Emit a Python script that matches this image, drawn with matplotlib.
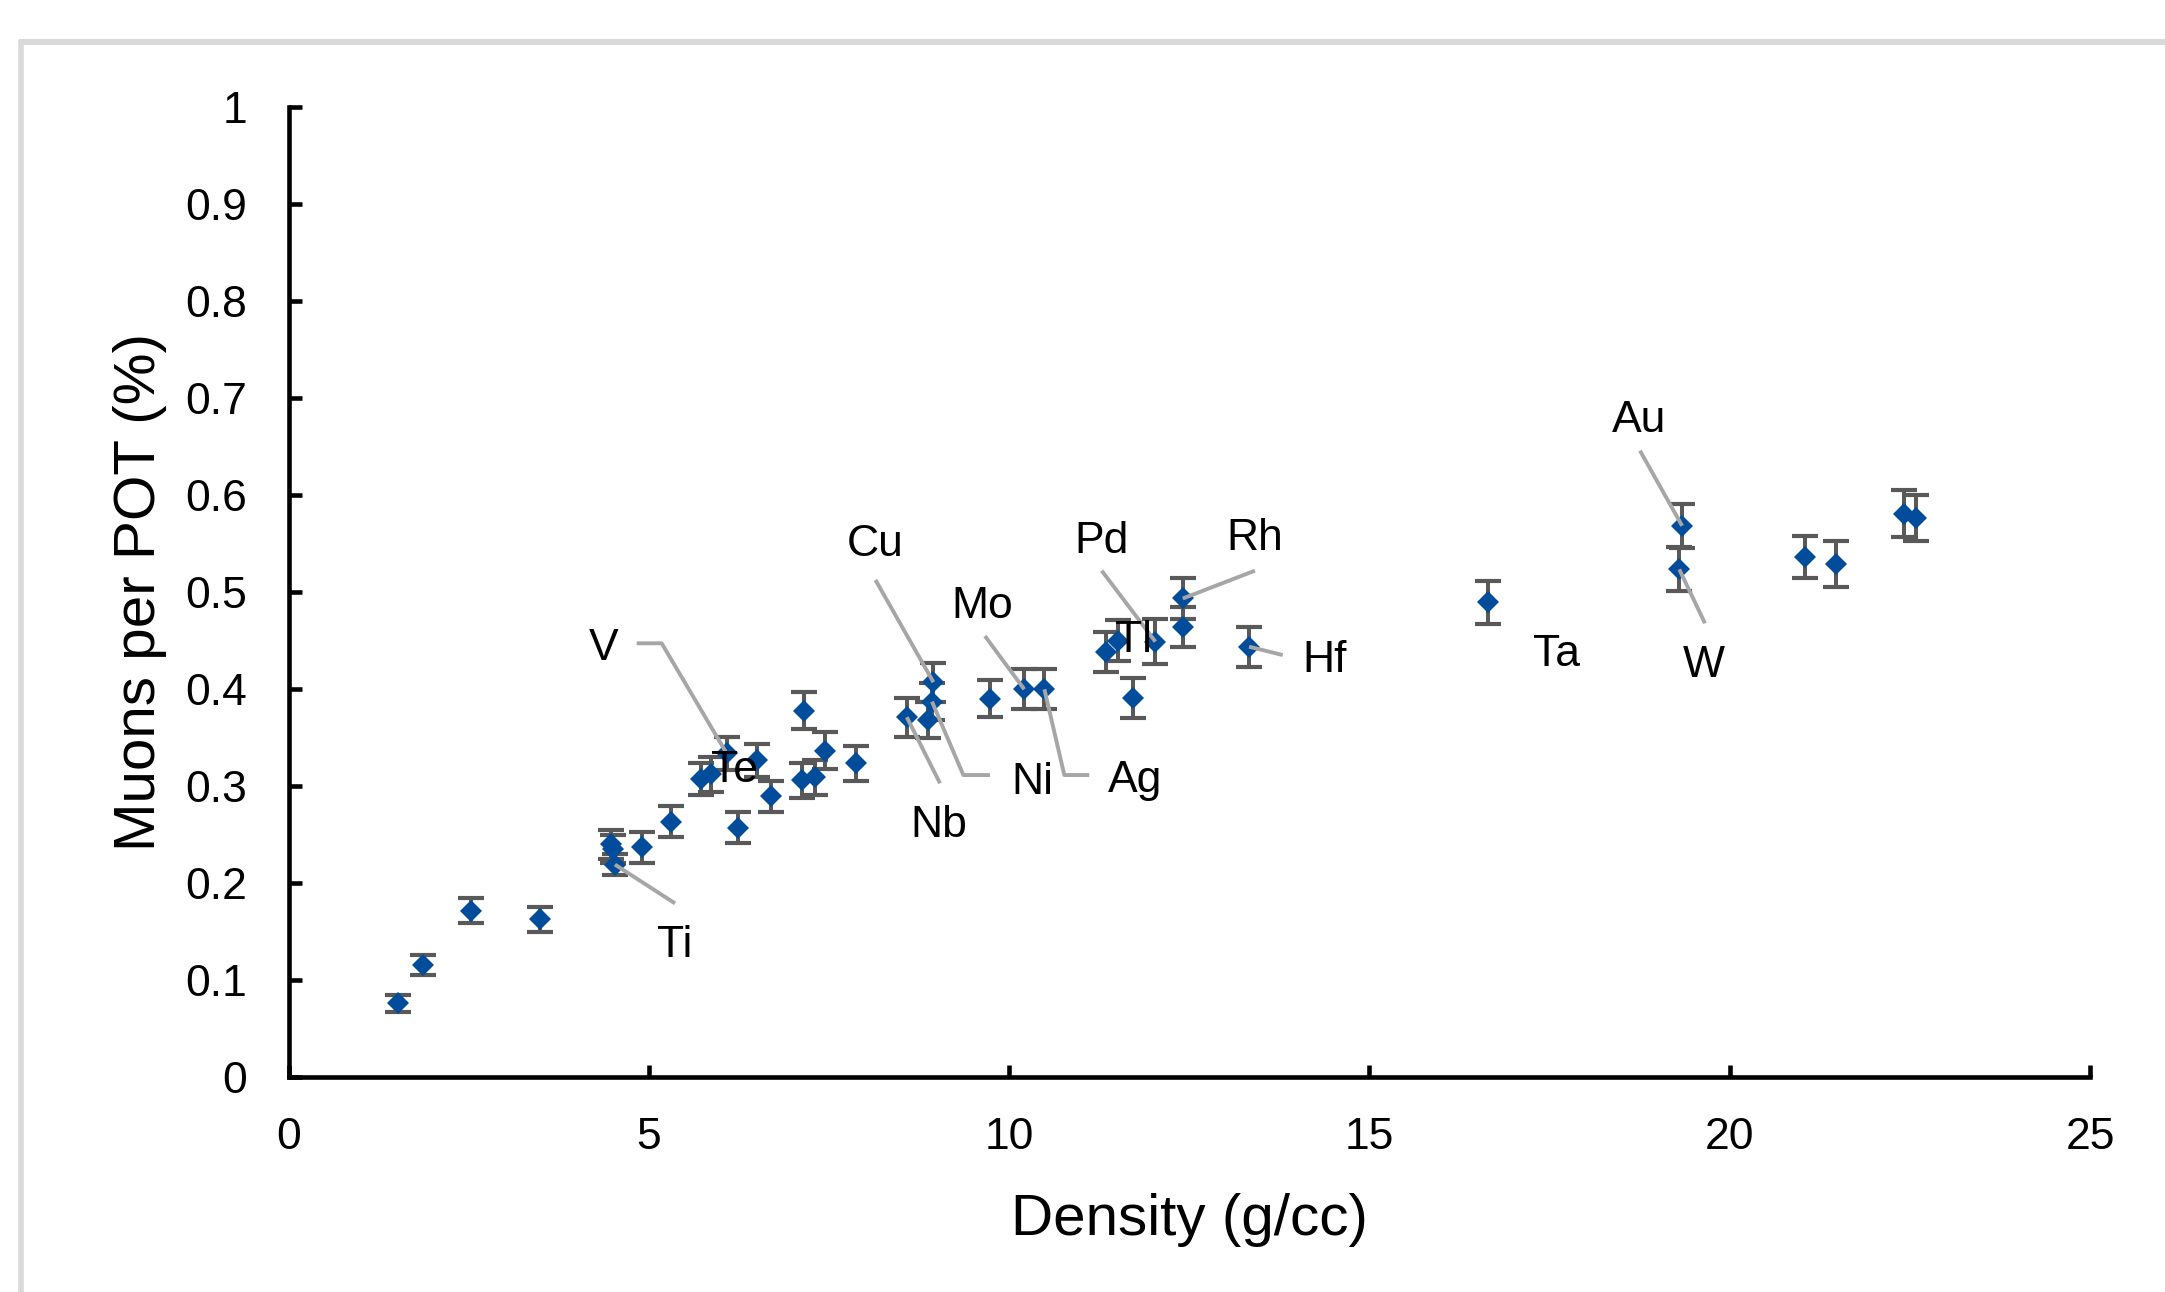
import matplotlib
matplotlib.use("Agg")
import matplotlib.pyplot as plt
from matplotlib.lines import Line2D

# ---------------- data ----------------
density = [1.52, 1.86, 2.53, 3.49, 4.48, 4.50, 4.53, 4.91, 5.31, 5.73, 5.87,
           6.08, 6.24, 6.50, 6.69, 7.12, 7.16, 7.31, 7.44, 7.88, 8.58, 8.88,
           8.93, 8.95, 9.73, 10.21, 10.49, 11.35, 11.51, 11.72, 12.03, 12.41,
           12.42, 13.33, 16.65, 19.30, 19.34, 21.04, 21.48, 22.42, 22.59]
muons = [0.076, 0.1155, 0.1716, 0.1627, 0.240, 0.235, 0.219, 0.2369, 0.2632,
         0.307, 0.312, 0.3337, 0.2569, 0.3265, 0.2892, 0.3057, 0.3775, 0.3088,
         0.3363, 0.3234, 0.371, 0.368, 0.387, 0.407, 0.390, 0.3997, 0.3997,
         0.4378, 0.450, 0.391, 0.4488, 0.4933, 0.4643, 0.4436, 0.4892, 0.5234,
         0.5682, 0.5364, 0.5292, 0.5807, 0.5765]
errors = [0.0086, 0.0103, 0.0132, 0.0129, 0.015, 0.014, 0.0107, 0.016, 0.0162,
          0.0163, 0.0177, 0.017, 0.016, 0.0168, 0.0163, 0.0177, 0.019, 0.0177,
          0.019, 0.018, 0.020, 0.019, 0.019, 0.0203, 0.0193, 0.0206, 0.0206,
          0.0206, 0.021, 0.0206, 0.023, 0.0215, 0.0206, 0.0206, 0.0222, 0.0227,
          0.0225, 0.0216, 0.0237, 0.0244, 0.0235]

x_ticks = [0, 5, 10, 15, 20, 25]
y_ticks = [0, 0.1, 0.2, 0.3, 0.4, 0.5, 0.6, 0.7, 0.8, 0.9, 1.0]
y_ticklabels = ["0", "0.1", "0.2", "0.3", "0.4", "0.5", "0.6", "0.7", "0.8", "0.9", "1"]

# element labels: name -> index of the labelled point (None = label only)
label_names = ["Ti", "V", "Te", "Cu", "Ni", "Nb", "Mo", "Ag", "Pd", "Tl", "Rh", "Hf", "Ta", "Au", "W"]
label_point = {"Ti": 6, "V": 11, "Te": None, "Cu": 23, "Ni": 22, "Nb": 20, "Mo": 25,
               "Ag": 26, "Pd": 30, "Tl": None, "Rh": 31, "Hf": 33, "Ta": None,
               "Au": 36, "W": 35}

# ---------------- layout of the labels (data coordinates) ----------------
label_pos = {"Ti": (5.364, 0.124), "V": (4.369, 0.4299), "Te": (6.196, 0.3044),
             "Cu": (8.136, 0.5366), "Ni": (10.325, 0.2914), "Nb": (9.018, 0.247),
             "Mo": (9.627, 0.4735), "Ag": (11.743, 0.2935), "Pd": (11.28, 0.5405),
             "Tl": (11.724, 0.4385), "Rh": (13.412, 0.5433), "Hf": (14.384, 0.4178),
             "Ta": (17.599, 0.4237), "Au": (18.739, 0.6653), "W": (19.646, 0.4127)}
leader_start = {"Ti": [(5.364, 0.179)],
                "V": [(4.832, 0.4471), (5.179, 0.4471)],
                "Cu": [(8.146, 0.5124)],
                "Ni": [(9.735, 0.3113), (9.365, 0.3113)],
                "Nb": [(9.041, 0.3028)],
                "Mo": [(9.665, 0.4546)],
                "Ag": [(11.113, 0.3113), (10.766, 0.3113)],
                "Pd": [(11.285, 0.522)],
                "Rh": [(13.412, 0.522)],
                "Hf": [(13.797, 0.435)],
                "Au": [(18.755, 0.6457)],
                "W": [(19.657, 0.4677)]}

FONT = ["Liberation Sans", "DejaVu Sans"]
plt.rcParams["font.family"] = FONT

W, H, DPI = 2165, 1292, 100
fig = plt.figure(figsize=(W / DPI, H / DPI), dpi=DPI)
fig.patch.set_facecolor("white")

# outer chart-area frame (only top and left edges visible)
frame_c = "#D9D9D9"
fig.add_artist(Line2D([19 / W, 1.0], [1 - 42 / H, 1 - 42 / H], transform=fig.transFigure,
                      color=frame_c, lw=4.3, solid_capstyle="butt"))
fig.add_artist(Line2D([20.5 / W, 20.5 / W], [0.0, 1 - 40 / H], transform=fig.transFigure,
                      color=frame_c, lw=4.0, solid_capstyle="butt"))

ax = fig.add_axes([288.5 / W, 1 - 1077 / H, (2090 - 288.5) / W, (1077 - 107) / H])
ax.set_xlim(0, 25)
ax.set_ylim(0, 1)

# error bars
ax.errorbar(density, muons, yerr=errors, fmt="none", ecolor="#595959",
            elinewidth=2.9, capsize=9.5, capthick=3.0, zorder=2)
# markers
ax.plot(density, muons, linestyle="none", marker="D", markersize=11.5,
        color="#024C9C", markeredgewidth=0, zorder=3)

# leader lines and labels
for name in label_names:
    idx = label_point[name]
    if idx is not None and name in leader_start:
        pts = leader_start[name] + [(density[idx], muons[idx])]
        xs = [p[0] for p in pts]
        ys = [p[1] for p in pts]
        ax.plot(xs, ys, color="#A6A6A6", lw=2.8, zorder=4, solid_capstyle="butt")
    lx, ly = label_pos[name]
    ax.text(lx, ly, name, ha="center", va="baseline", fontsize=32, color="black", zorder=5)

# axes styling
for side in ["top", "right"]:
    ax.spines[side].set_visible(False)
for side in ["left", "bottom"]:
    ax.spines[side].set_linewidth(3.3)
    ax.spines[side].set_color("black")

ax.set_xticks(x_ticks)
ax.set_xticklabels([str(t) for t in x_ticks])
ax.set_yticks(y_ticks)
ax.set_yticklabels(y_ticklabels)
ax.tick_params(axis="both", direction="in", length=9, width=3.3, labelsize=32, colors="black")
ax.tick_params(axis="x", pad=29)
ax.tick_params(axis="y", pad=30)

ax.set_xlabel("Density (g/cc)", fontsize=42, labelpad=25)
ax.set_ylabel("Muons per POT (%)", fontsize=42, labelpad=13)

fig.savefig("out.png", dpi=DPI, facecolor="white")
